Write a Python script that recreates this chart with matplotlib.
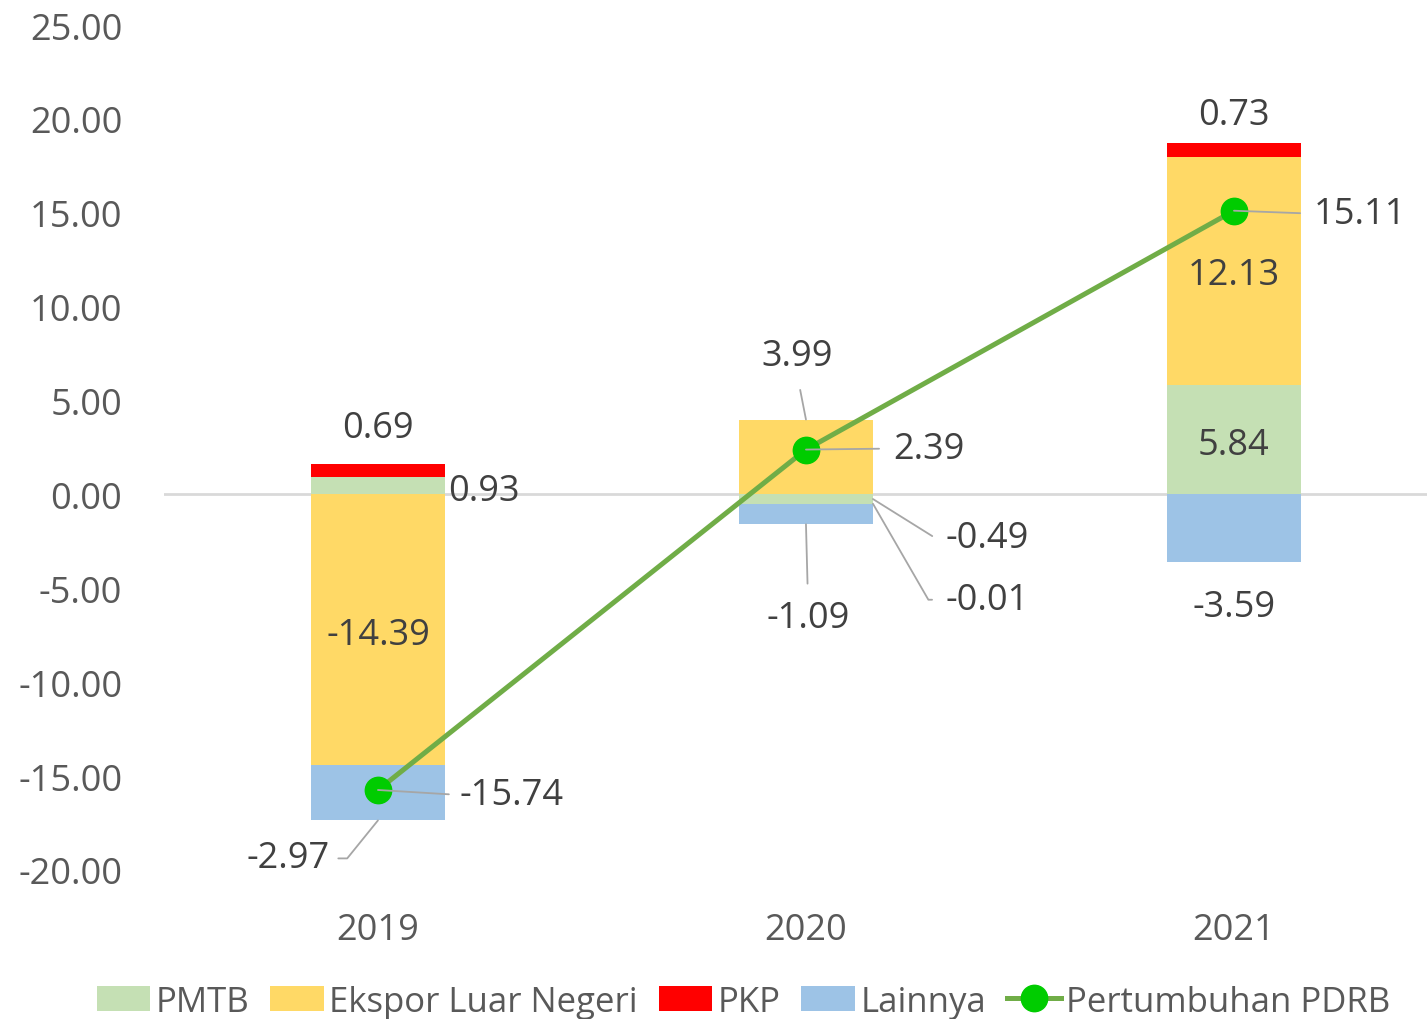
import numpy as np
import matplotlib
matplotlib.use('Agg')
import matplotlib.pyplot as plt
from matplotlib.patches import Patch
from matplotlib.lines import Line2D

plt.rcParams['font.family'] = ['Open Sans', 'DejaVu Sans']

# data
years = ['2019', '2020', '2021']
pmtb = [0.93, -0.49, 5.84]
ekspor = [-14.39, 3.99, 12.13]
pkp = [0.69, -0.01, 0.73]
lainnya = [-2.97, -1.09, -3.59]
pdrb = [-15.74, 2.39, 15.11]

series = [('PMTB', pmtb, '#C5E0B4'),
          ('Ekspor Luar Negeri', ekspor, '#FFD966'),
          ('PKP', pkp, '#FF0000'),
          ('Lainnya', lainnya, '#9DC3E6')]

fig = plt.figure(figsize=(14.27, 10.2), dpi=100)
ax = fig.add_axes([0.1149, 0.1461, 0.8851, 0.8284])

x = np.arange(len(years))
width = 0.313
pos_base = np.zeros(len(years))
neg_base = np.zeros(len(years))
seg = {}  # name -> (bottom, top) per year
for name, vals, col in series:
    vals = np.asarray(vals)
    bottom = np.where(vals >= 0, pos_base, neg_base)
    ax.bar(x, vals, width, bottom=bottom, color=col, edgecolor='none', zorder=2)
    seg[name] = (bottom, bottom + vals)
    pos_base = pos_base + np.where(vals >= 0, vals, 0)
    neg_base = neg_base + np.where(vals < 0, vals, 0)

ax.axhline(0, color='#D9D9D9', lw=2, zorder=1)
ax.plot(x, pdrb, color='#70AD47', lw=3.6, marker='o', markersize=19,
        markerfacecolor='#00CC00', markeredgecolor='#00CC00', zorder=3)

ax.set_xlim(-0.5, 2.451)
ax.set_ylim(-20, 25)
ax.set_yticks(np.arange(-20, 26, 5))
ax.set_yticklabels(['{:.2f}'.format(v) for v in np.arange(-20, 26, 5)])
ax.set_xticks(x)
ax.set_xticklabels(years)
ax.tick_params(axis='y', length=0, pad=30, labelsize=26, labelcolor='#595959')
ax.tick_params(axis='x', length=0, pad=30, labelsize=26, labelcolor='#595959')
for s in ax.spines.values():
    s.set_visible(False)

LC = '#A6A6A6'
TC = '#404040'
FS = 26
DY = -3  # baseline correction for centred labels


def label(txt, xy, off, ha='center', va='center', relpos=None, conn='arc3', shrink=6):
    props = None
    if relpos is not None:
        props = dict(arrowstyle='-', color=LC, lw=1.3, shrinkA=shrink, shrinkB=0,
                     relpos=relpos, connectionstyle=conn)
    ax.annotate(txt, xy=xy, xytext=(off[0], off[1] + DY), textcoords='offset pixels',
                ha=ha, va=va, fontsize=FS, color=TC, arrowprops=props, zorder=5)


def mid(name, i):
    b, t = seg[name]
    return (b[i] + t[i]) / 2


fmt = '{:.2f}'.format
right = width / 2

# 2019
label(fmt(pkp[0]), (x[0], seg['PKP'][1][0]), (0, 39))
label(fmt(pmtb[0]), (x[0] + right, mid('PMTB', 0)), (3, -2), ha='left')
label(fmt(ekspor[0]), (x[0], mid('Ekspor Luar Negeri', 0)), (0, -2))
label(fmt(lainnya[0]), (x[0], seg['Lainnya'][1][0]), (-48, -35), ha='right',
      relpos=(1, 0.5), conn='angle,angleA=0,angleB=51,rad=0', shrink=4)
label(fmt(pdrb[0]), (x[0], pdrb[0]), (82, -2), ha='left', relpos=(0, 0.5), shrink=6)

# 2020
label(fmt(ekspor[1]), (x[1], seg['Ekspor Luar Negeri'][1][1]), (-9, 67),
      relpos=(0.5, 0), shrink=10)
label(fmt(pmtb[1]), (x[1] + right, mid('PMTB', 1)), (73, -36), ha='left',
      relpos=(0, 0.5), conn='angle,angleA=0,angleB=-32,rad=0', shrink=8)
label(fmt(pkp[1]), (x[1] + right, mid('PKP', 1)), (73, -93), ha='left',
      relpos=(0, 0.5), conn='angle,angleA=0,angleB=-60,rad=0', shrink=8)
label(fmt(lainnya[1]), (x[1], seg['Lainnya'][1][1]), (2, -91),
      relpos=(0.5, 1), shrink=10)
label(fmt(pdrb[1]), (x[1], pdrb[1]), (87, 4), ha='left', relpos=(0, 0.5), shrink=8)

# 2021
label(fmt(pkp[2]), (x[2], seg['PKP'][1][2]), (0, 31))
label(fmt(ekspor[2]), (x[2], mid('Ekspor Luar Negeri', 2)), (0, -1))
label(fmt(pmtb[2]), (x[2], mid('PMTB', 2)), (0, -2))
label(fmt(lainnya[2]), (x[2], seg['Lainnya'][1][2]), (0, -42))
label(fmt(pdrb[2]), (x[2], pdrb[2]), (80, 0), ha='left', relpos=(0, 0.5), shrink=8)

handles = [Patch(facecolor=c, edgecolor='none', label=n) for n, v, c in series]
handles.append(Line2D([], [], color='#70AD47', lw=3.6, marker='o', markersize=19,
                      markerfacecolor='#00CC00', markeredgecolor='#00CC00',
                      label='Pertumbuhan PDRB'))
leg = fig.legend(handles=handles, loc='center', bbox_to_anchor=(0.521, 0.017), ncol=5,
                 frameon=False, fontsize=25, handlelength=1.55, handleheight=0.72,
                 handletextpad=0.15, columnspacing=0.6, borderpad=0)
for t in leg.get_texts():
    t.set_color('#595959')

fig.savefig('out.png', dpi=100)
